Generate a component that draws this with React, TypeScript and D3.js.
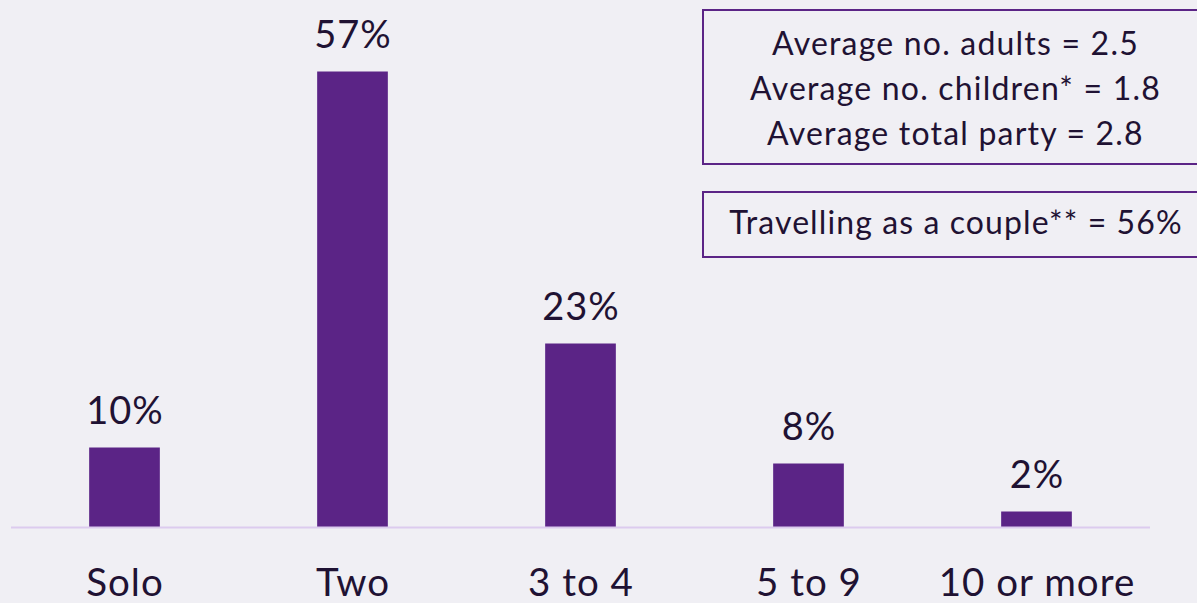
import React from "react";
import * as d3 from "d3";

const categories = ["Solo", "Two", "3 to 4", "5 to 9", "10 or more"];
const values = [10, 57, 23, 8, 2];
const valueLabels = ["10%", "57%", "23%", "8%", "2%"];
const summaryLines = ["Average no. adults = 2.5", "Average no. children* = 1.8", "Average total party = 2.8"];
const coupleLine = "Travelling as a couple** = 56%";

const W = 1197;
const H = 603;
const FONT = "Lato, 'Open Sans', sans-serif";
const BAR = "#5b2486";
const TXT = "#1f1233";
const BG = "#f0eff4";

export default function App() {
  const baseline = 527.5;
  const x = d3.scaleBand<string>().domain(categories).range([10.5, 1150.5]).paddingInner(0.69).paddingOuter(0.345);
  const y = d3.scaleLinear().domain([0, 60]).range([baseline, baseline - 480]);

  return (
    <svg width={W} height={H} style={{ position: "absolute", left: 0, top: 0, background: BG, display: "block" }}>
      <rect x={0} y={0} width={W} height={H} fill={BG} />
      {categories.map((c, i) => (
        <g key={c}>
          <rect x={x(c)!} y={y(values[i])} width={x.bandwidth()} height={baseline - y(values[i])} fill={BAR} />
          <text x={x(c)! + x.bandwidth() / 2 + 0.5} y={y(values[i]) - 24} textAnchor="middle" fontFamily={FONT} fontSize={38} letterSpacing={1} fill={TXT}>
            {valueLabels[i]}
          </text>
          <text x={x(c)! + x.bandwidth() / 2 + 0.5} y={596} textAnchor="middle" fontFamily={FONT} fontSize={38.5} letterSpacing={1} fill={TXT}>
            {c}
          </text>
        </g>
      ))}
      <line x1={11} x2={1150} y1={baseline} y2={baseline} stroke="#dccbee" strokeWidth={2} />
      <rect x={703} y={10} width={510} height={154} fill="none" stroke={BAR} strokeWidth={2} />
      {summaryLines.map((l, i) => (
        <text key={l} x={955.5} y={55 + i * 45} textAnchor="middle" fontFamily={FONT} fontSize={32} letterSpacing={1.2} fill={TXT}>
          {l}
        </text>
      ))}
      <rect x={703} y={192} width={510} height={65} fill="none" stroke={BAR} strokeWidth={2} />
      <text x={956} y={234} textAnchor="middle" fontFamily={FONT} fontSize={32} letterSpacing={1.1} fill={TXT}>
        {coupleLine}
      </text>
    </svg>
  );
}
